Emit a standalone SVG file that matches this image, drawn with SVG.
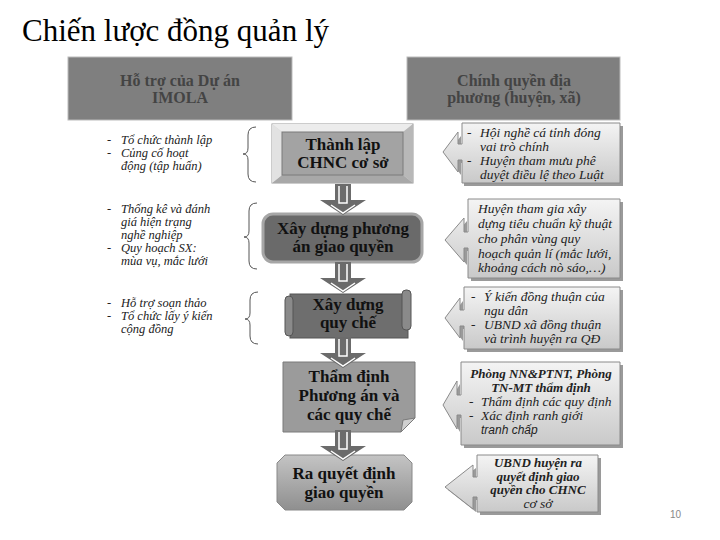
<svg xmlns="http://www.w3.org/2000/svg" width="720" height="540" viewBox="0 0 720 540">
<defs>
<linearGradient id="cg" x1="0" y1="0" x2="0" y2="1">
<stop offset="0" stop-color="#f4f4f4"/><stop offset="1" stop-color="#c9c9c9"/>
</linearGradient>
<linearGradient id="pg" x1="0" y1="0" x2="0" y2="1">
<stop offset="0" stop-color="#c4c4c4"/><stop offset="1" stop-color="#8f8f8f"/>
</linearGradient>
<g id="darr">
<polygon points="-8,0 8,0 8,16 23,16 0,31 -23,16 -8,16" fill="#6b6b6b"/>
<polyline points="-4,2 -4,19 4,19 4,2" fill="none" stroke="#ffffff" stroke-width="1.5"/>
<polyline points="-12,21 0,29 12,21" fill="none" stroke="#ffffff" stroke-width="1.5"/>
</g>
</defs>
<style>
.t{font-family:"Liberation Serif","Times New Roman",serif}
.hd{font-family:"Liberation Serif",serif;font-weight:bold;font-size:16px;fill:#444;text-anchor:middle}
.nd{font-family:"Liberation Serif",serif;font-weight:bold;font-size:17px;fill:#111;text-anchor:middle}
.li{font-family:"Liberation Serif",serif;font-style:italic;font-size:12.5px;fill:#222}
.ri{font-family:"Liberation Serif",serif;font-style:italic;font-size:13.5px;fill:#222}
.rb{font-family:"Liberation Serif",serif;font-style:italic;font-weight:bold;font-size:13px;fill:#222}
.br{fill:none;stroke:#555;stroke-width:1}
.co{fill:url(#cg);stroke:#8a8a8a;stroke-width:1}
.sh{fill:#9a9a9a}
</style>
<rect width="720" height="540" fill="#ffffff"/>
<text class="t" x="22" y="41" font-size="31" fill="#000">Chiến lược đồng quản lý</text>

<g id="hdr-left">
<rect x="68" y="57" width="224" height="63" fill="#7f7f7f" stroke="#bbb"/>
<text class="hd" x="180" y="86">Hỗ trợ của Dự án</text>
<text class="hd" x="180" y="103">IMOLA</text>
</g>
<g id="hdr-right">
<rect x="407" y="57" width="213" height="63" fill="#7f7f7f" stroke="#bbb"/>
<text class="hd" x="514" y="86">Chính quyền địa</text>
<text class="hd" x="514" y="103">phương (huyện, xã)</text>
</g>

<g id="left1">
<text class="li" x="107" y="144">-</text><text class="li" x="121" y="144">Tổ chức thành lập</text>
<text class="li" x="107" y="157">-</text><text class="li" x="121" y="157">Củng cố hoạt</text>
<text class="li" x="121" y="170">động (tập huấn)</text>
<path class="br" d="M256,127 Q248,127 248,135 L248,148 Q248,154 243,154 Q248,154 248,160 L248,174 Q248,182 256,182"/>
</g>
<g id="left2">
<text class="li" x="107" y="213">-</text><text class="li" x="121" y="213">Thống kê và đánh</text>
<text class="li" x="121" y="226">giá hiện trạng</text>
<text class="li" x="121" y="239">nghề nghiệp</text>
<text class="li" x="107" y="252">-</text><text class="li" x="121" y="252">Quy hoạch SX:</text>
<text class="li" x="121" y="265">mùa vụ, mắc lưới</text>
<path class="br" d="M257,203 Q249,203 249,211 L249,231 Q249,237 244,237 Q249,237 249,243 L249,261 Q249,269 257,269"/>
</g>
<g id="left3">
<text class="li" x="107" y="307">-</text><text class="li" x="121" y="307">Hỗ trợ soạn thảo</text>
<text class="li" x="107" y="320">-</text><text class="li" x="121" y="320">Tổ chức lấy ý kiến</text>
<text class="li" x="121" y="333">cộng đồng</text>
<path class="br" d="M258,292 Q250,292 250,300 L250,313 Q250,319 245,319 Q250,319 250,325 L250,336 Q250,344 258,344"/>
</g>

<g id="node1">
<rect x="272" y="124" width="141" height="59" fill="#d6d6d6" stroke="#999"/>
<polygon points="272,124 413,124 403,132 282,132" fill="#ececec"/>
<polygon points="272,183 413,183 403,175 282,175" fill="#a8a8a8"/>
<polygon points="272,124 282,132 282,175 272,183" fill="#e2e2e2"/>
<polygon points="413,124 403,132 403,175 413,183" fill="#b8b8b8"/>
<rect x="282" y="132" width="121" height="43" fill="#a3a3a3" stroke="#7a7a7a"/>
<text class="nd" x="343" y="150">Thành lập</text>
<text class="nd" x="343" y="168">CHNC cơ sở</text>
</g>
<g id="node2">
<rect x="263" y="214" width="159" height="48" rx="10" fill="#6a6a6a" stroke="#a6a6a6" stroke-width="3"/>
<text class="nd" x="343" y="234">Xây dựng phương</text>
<text class="nd" x="343" y="252">án giao quyền</text>
</g>
<g id="node3">
<rect x="290" y="294" width="118" height="44" fill="#6e6e6e" stroke="#555"/>
<rect x="285" y="296" width="8" height="40" rx="4" fill="#8a8a8a" stroke="#555"/>
<rect x="402" y="290" width="9" height="40" rx="4" fill="#8a8a8a" stroke="#555"/>
<text class="nd" x="348" y="310">Xây dựng</text>
<text class="nd" x="348" y="328">quy chế</text>
</g>
<g id="node4">
<path d="M283,362 L415,362 L415,418 L401,432 L283,432 Z" fill="#9b9b9b" stroke="#7a7a7a"/>
<path d="M415,418 L403,420 L401,432 Z" fill="#d0d0d0" stroke="#7a7a7a"/>
<text class="nd" x="349" y="382">Thẩm định</text>
<text class="nd" x="349" y="401">Phương án và</text>
<text class="nd" x="349" y="420">các quy chế</text>
</g>
<g id="node5">
<polygon points="285,455 404,455 412,463 412,502 404,510 285,510 277,502 277,463" fill="url(#pg)" stroke="#888"/>
<text class="nd" x="344" y="479">Ra quyết định</text>
<text class="nd" x="344" y="498">giao quyền</text>
</g>

<g id="connectors">
<use href="#darr" x="343" y="184"/>
<use href="#darr" x="343" y="262"/>
<use href="#darr" x="343" y="337"/>
<use href="#darr" x="343" y="430"/>
</g>

<g id="callout1">
<path class="sh" d="M464,126 L623,126 L623,186 L464,186 L464,163 L461,163 L461,175 L446,155 L461,136 L461,146 L464,146 Z"/>
<path class="co" d="M462,123 L620,123 L620,183 L462,183 L462,160 L458,160 L458,172 L443,152 L458,132 L458,144 L462,144 Z"/>
<text class="ri" x="467" y="137">-</text><text class="ri" x="480" y="137">Hội nghề cá tỉnh đóng</text>
<text class="ri" x="480" y="151">vai trò chính</text>
<text class="ri" x="467" y="165">-</text><text class="ri" x="480" y="165">Huyện tham mưu phê</text>
<text class="ri" x="480" y="179">duyệt điều lệ theo Luật</text>
</g>
<g id="callout2">
<path class="sh" d="M471,202 L623,202 L623,281 L471,281 L471,251 L467,251 L467,265 L448,243 L467,221 L467,235 L471,235 Z"/>
<path class="co" d="M468,199 L620,199 L620,278 L468,278 L468,248 L464,248 L464,262 L445,240 L464,218 L464,232 L468,232 Z"/>
<text class="ri" x="478" y="213">Huyện tham gia xây</text>
<text class="ri" x="478" y="228">dựng tiêu chuẩn kỹ thuật</text>
<text class="ri" x="478" y="243">cho phân vùng quy</text>
<text class="ri" x="478" y="258">hoạch quản lí (mắc lưới,</text>
<text class="ri" x="478" y="272">khoảng cách nò sáo,…)</text>
</g>
<g id="callout3">
<path class="sh" d="M467,290 L623,290 L623,352 L467,352 L467,329 L463,329 L463,341 L448,321 L463,301 L463,313 L467,313 Z"/>
<path class="co" d="M464,287 L620,287 L620,349 L464,349 L464,326 L460,326 L460,338 L445,318 L460,298 L460,310 L464,310 Z"/>
<text class="ri" x="471" y="301">-</text><text class="ri" x="484" y="301">Ý kiến đồng thuận của</text>
<text class="ri" x="484" y="315">ngu dân</text>
<text class="ri" x="471" y="329">-</text><text class="ri" x="484" y="329">UBND xã đồng thuận</text>
<text class="ri" x="484" y="343">và trình huyện ra QĐ</text>
</g>
<g id="callout4">
<path class="sh" d="M464,365 L623,365 L623,448 L464,448 L464,418 L460,418 L460,432 L446,408 L460,384 L460,398 L464,398 Z"/>
<path class="co" d="M461,362 L620,362 L620,445 L461,445 L461,415 L457,415 L457,429 L443,405 L457,381 L457,395 L461,395 Z"/>
<text class="rb" x="541" y="378" text-anchor="middle">Phòng NN&amp;PTNT, Phòng</text>
<text class="rb" x="541" y="392" text-anchor="middle">TN-MT thẩm định</text>
<text class="ri" x="469" y="406">-</text><text class="ri" x="481" y="406">Thẩm định các quy định</text>
<text class="ri" x="469" y="420">-</text><text class="ri" x="481" y="420">Xác định ranh giới</text>
<text x="481" y="434" font-family="'Liberation Sans',sans-serif" font-style="italic" font-size="12" fill="#222">tranh chấp</text>
</g>
<g id="callout5">
<path class="sh" d="M480,458 L601,458 L601,515 L480,515 L480,500 L476,500 L476,512 L448,490 L476,468 L476,480 L480,480 Z"/>
<path class="co" d="M477,455 L598,455 L598,512 L477,512 L477,497 L473,497 L473,509 L445,487 L473,465 L473,477 L477,477 Z"/>
<text class="rb" x="538" y="467" text-anchor="middle" font-size="12.5">UBND huyện ra</text>
<text class="rb" x="538" y="480.5" text-anchor="middle" font-size="12.5">quyết định giao</text>
<text class="rb" x="538" y="494" text-anchor="middle" font-size="12.5">quyền cho CHNC</text>
<text class="ri" x="538" y="507.5" text-anchor="middle" font-size="12.5">cơ sở</text>
</g>

<text x="670" y="518" font-family="'Liberation Sans',sans-serif" font-size="10" fill="#888">10</text>
</svg>
